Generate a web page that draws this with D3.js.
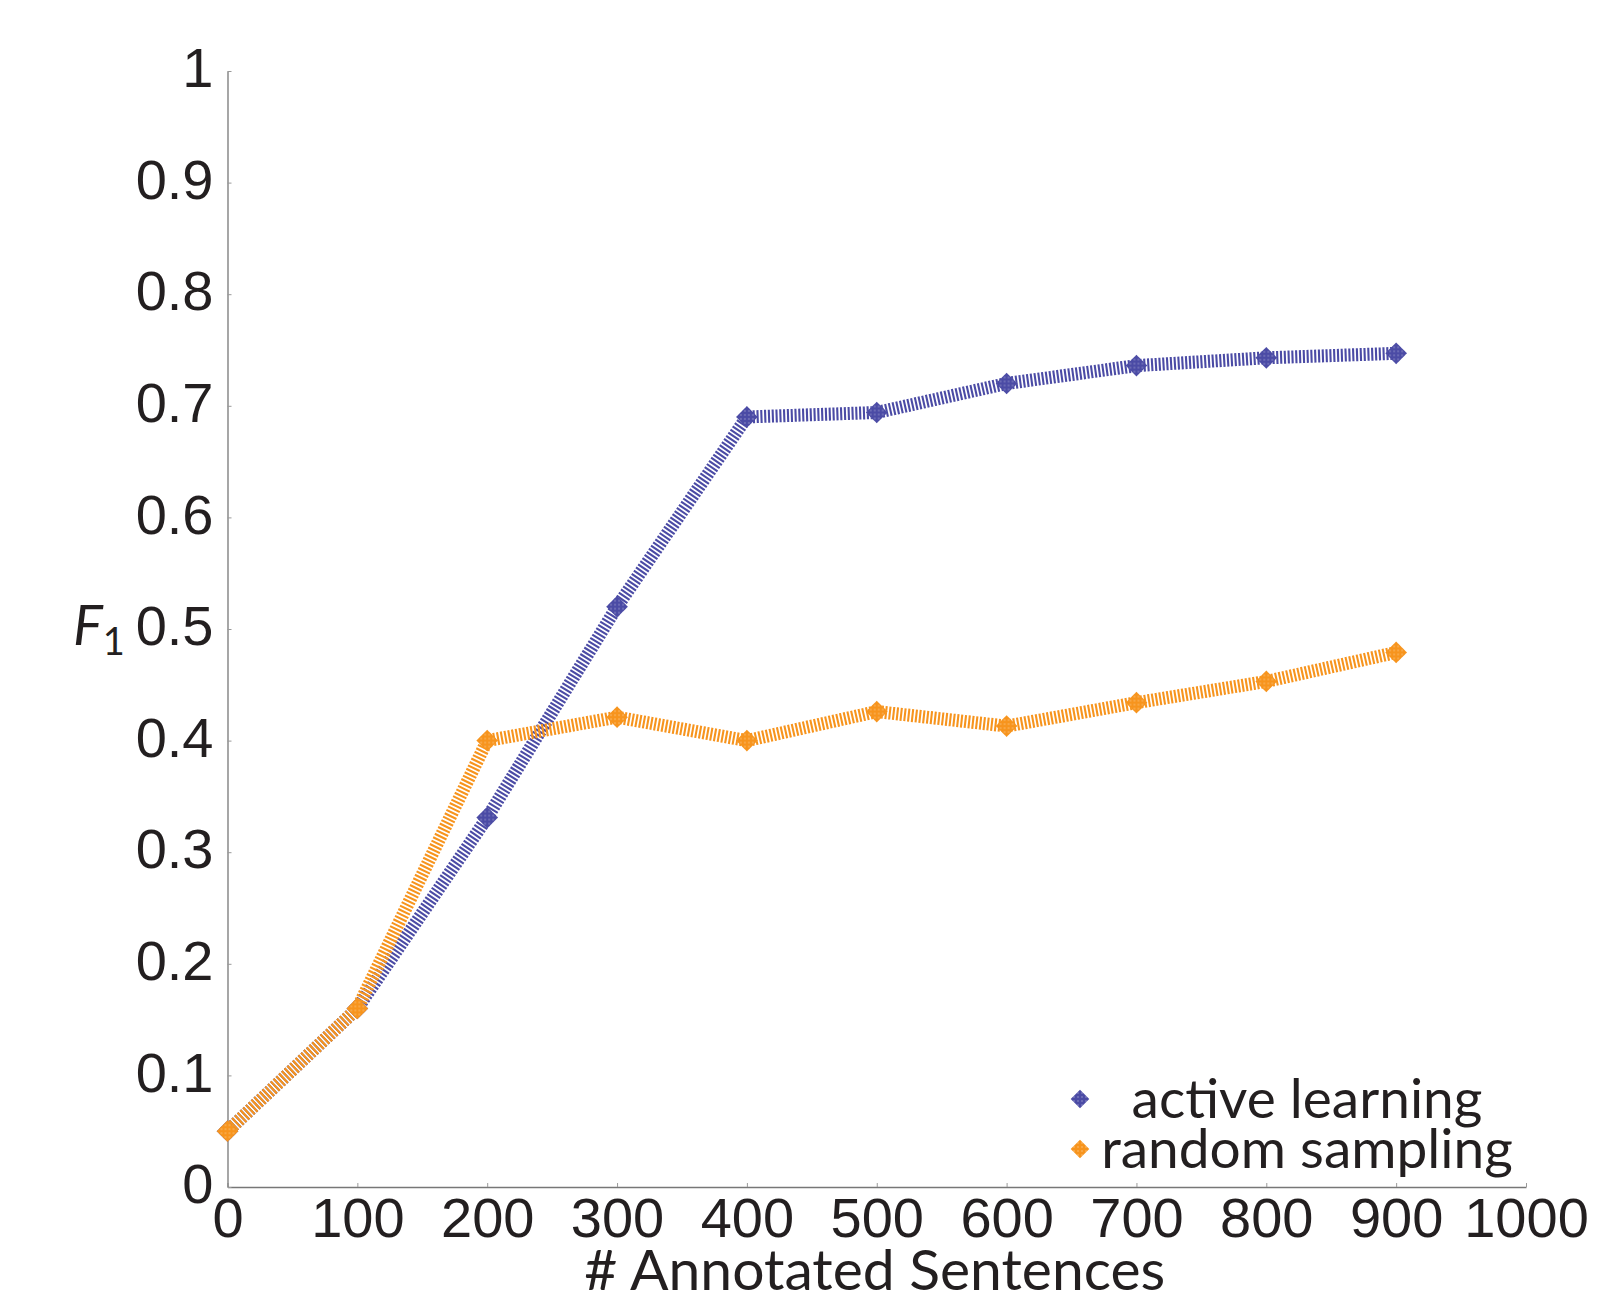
<!DOCTYPE html>
<html lang="en">
<head>
    <meta charset="UTF-8">
    <script src="https://d3js.org/d3.v7.min.js"></script>
    <style>
        body { margin: 0; background: #fff; font-family: Lato, "Open Sans", sans-serif; }
        .tick text { fill: #231f20; }
    </style>
</head>
<body>
    <svg id="chart"></svg>
    <script>
        // data
        const sentences = [0, 100, 200, 300, 400, 500, 600, 700, 800, 900];
        const activeF1 = [0.05, 0.16, 0.331, 0.52, 0.69, 0.694, 0.72, 0.736, 0.743, 0.747];
        const randomF1 = [0.05, 0.16, 0.40, 0.421, 0.40, 0.426, 0.413, 0.434, 0.453, 0.479];
        const xTicks = [0, 100, 200, 300, 400, 500, 600, 700, 800, 900, 1000];
        const yTicks = [0, 0.1, 0.2, 0.3, 0.4, 0.5, 0.6, 0.7, 0.8, 0.9, 1];
        const seriesNames = ["active learning", "random sampling"];
        const colors = ["#4b4ba5", "#f7941d"];

        const W = 1598, H = 1300;
        const plotLeft = 227.5, plotRight = 1526, plotTop = 71, plotBottom = 1187;

        const svg = d3.select("#chart").attr("width", W).attr("height", H);

        const x = d3.scaleLinear().domain([0, 1000]).range([plotLeft, plotRight]);
        const y = d3.scaleLinear().domain([0, 1]).range([plotBottom, plotTop]);

        // dotted pattern for the diamond markers
        const defs = svg.append("defs");
        colors.forEach((c, i) => {
            const p = defs.append("pattern")
                .attr("id", "dots" + i)
                .attr("patternUnits", "userSpaceOnUse")
                .attr("width", 4).attr("height", 4);
            p.append("rect").attr("width", 4).attr("height", 4).attr("fill", c);
            p.append("rect").attr("x", 1.5).attr("y", 1.5).attr("width", 1).attr("height", 1).attr("fill", "#fff").attr("opacity", 0.7);
        });

        // axes
        const xAxis = svg.append("g")
            .attr("transform", `translate(0,${plotBottom})`)
            .call(d3.axisBottom(x).tickValues(xTicks).tickFormat(d3.format("d")).tickSizeInner(-4).tickSizeOuter(0).tickPadding(10));
        xAxis.select(".domain").attr("stroke", "#777").attr("stroke-width", 1.3);
        xAxis.selectAll(".tick line").attr("stroke", "#999");
        xAxis.selectAll(".tick text").attr("font-size", 56).attr("dy", "0.71em");

        const yAxis = svg.append("g")
            .attr("transform", `translate(${plotLeft},0)`)
            .call(d3.axisLeft(y).tickValues(yTicks).tickFormat(d => d === 0 || d === 1 ? d : d3.format(".1f")(d)).tickSizeInner(-4).tickSizeOuter(0).tickPadding(14));
        yAxis.select(".domain").attr("stroke", "#777").attr("stroke-width", 1.3);
        yAxis.selectAll(".tick line").attr("stroke", "#999");
        yAxis.selectAll(".tick text").attr("font-size", 56).attr("dy", "0.28em");

        // axis titles
        svg.append("text")
            .attr("x", x(500) - 2).attr("y", 1290)
            .attr("text-anchor", "middle")
            .attr("font-size", 57).attr("fill", "#231f20")
            .text("# Annotated Sentences");

        const f1 = svg.append("text")
            .attr("x", 73).attr("y", 645)
            .attr("font-size", 56).attr("fill", "#231f20");
        f1.append("tspan").attr("font-style", "italic").text("F");
        f1.append("tspan").attr("font-size", 38).attr("dy", 10).text("1");

        // lines + markers
        const series = [activeF1, randomF1];
        const line = d3.line().x((d, i) => x(sentences[i])).y(d => y(d));

        series.forEach((vals, k) => {
            const g = svg.append("g");
            g.append("path")
                .datum(vals)
                .attr("d", line)
                .attr("fill", "none")
                .attr("stroke", colors[k])
                .attr("stroke-width", 13)
                .attr("stroke-dasharray", "2.1,1.7")
                .attr("stroke-linejoin", "bevel");
            g.selectAll("path.mk")
                .data(vals)
                .enter()
                .append("path")
                .attr("class", "mk")
                .attr("d", d3.symbol(d3.symbolDiamond2, 300))
                .attr("transform", (d, i) => `translate(${x(sentences[i])},${y(d)})`)
                .attr("fill", `url(#dots${k})`);
        });

        // legend
        const legendY = [1099, 1149];
        seriesNames.forEach((name, k) => {
            svg.append("path")
                .attr("d", d3.symbol(d3.symbolDiamond2, 220))
                .attr("transform", `translate(1080,${legendY[k]})`)
                .attr("fill", `url(#dots${k})`);
            svg.append("text")
                .attr("x", 1307).attr("y", legendY[k] + 19)
                .attr("text-anchor", "middle")
                .attr("font-size", 55).attr("fill", "#231f20")
                .text(name);
        });
    </script>
</body>
</html>
